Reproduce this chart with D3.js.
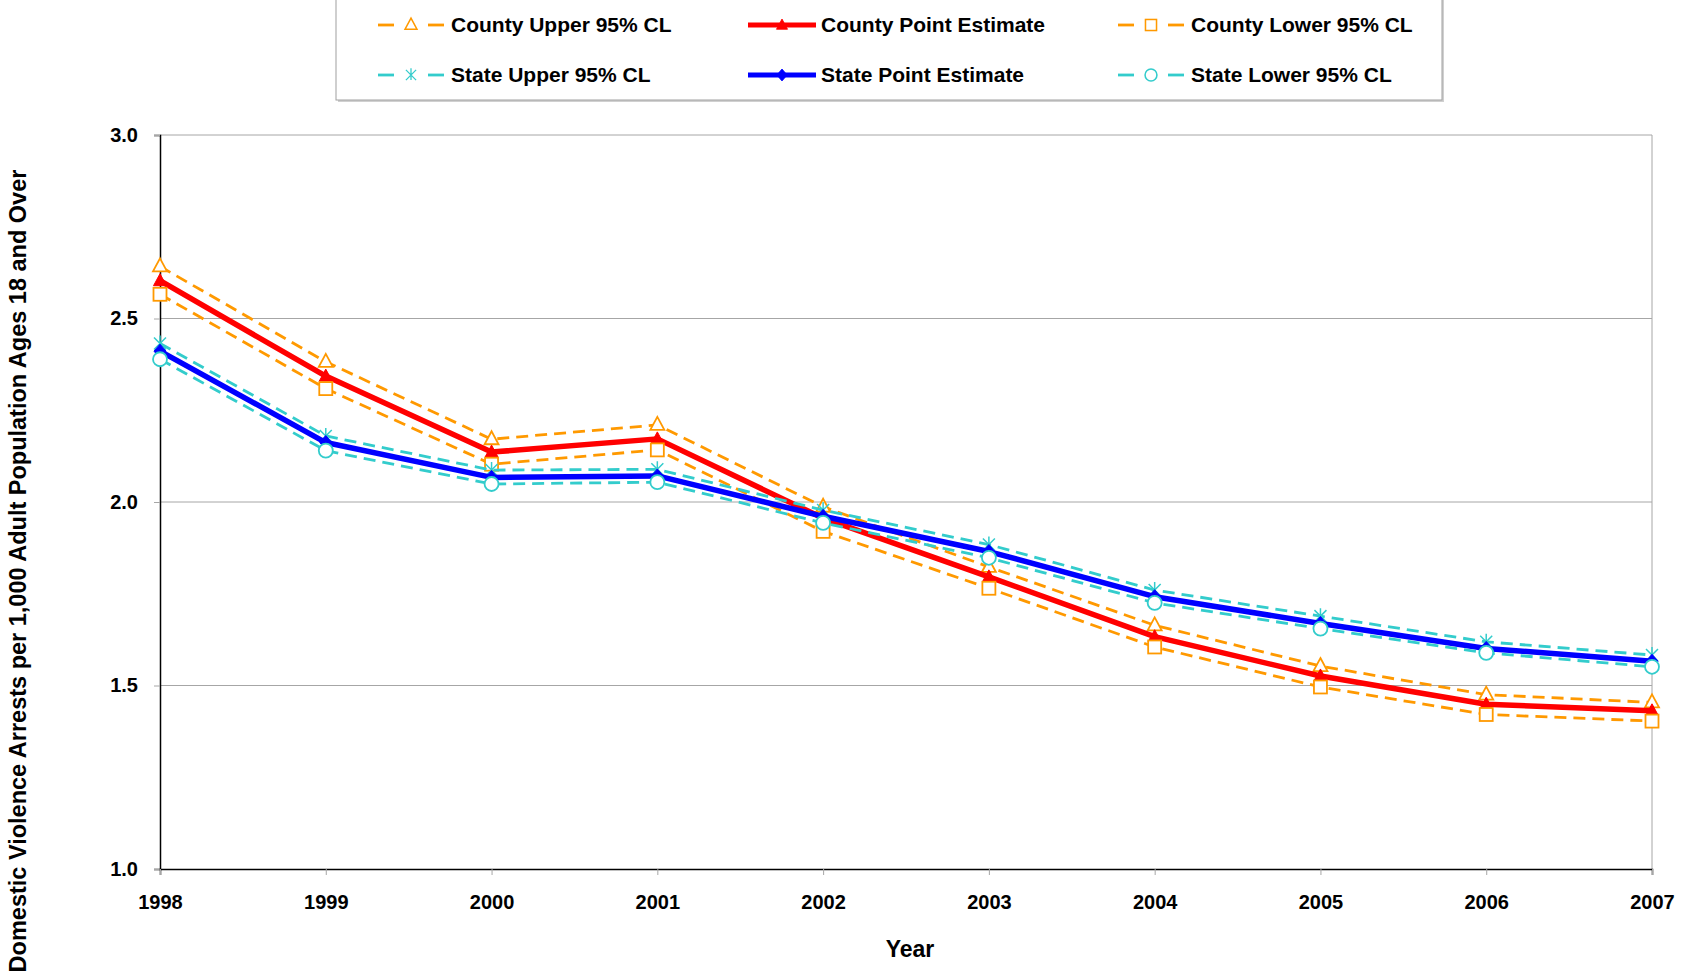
<!DOCTYPE html>
<html>
<head>
<meta charset="utf-8">
<script src="https://cdn.jsdelivr.net/npm/d3@7"></script>
<style>
  body { margin: 0; background: #fff; }
  svg text { font-family: "Liberation Sans", Arial, sans-serif; font-weight: bold; fill: #000; }
</style>
</head>
<body>
<svg id="chart" width="1681" height="980"></svg>
<script>
var years = [1998, 1999, 2000, 2001, 2002, 2003, 2004, 2005, 2006, 2007];
var yTicks = [1.0, 1.5, 2.0, 2.5, 3.0];

var countyUpper = [2.642, 2.382, 2.171, 2.210, 1.987, 1.823, 1.664, 1.553, 1.475, 1.454];
var countyPoint = [2.603, 2.343, 2.136, 2.172, 1.956, 1.796, 1.633, 1.526, 1.449, 1.431];
var countyLower = [2.566, 2.309, 2.103, 2.142, 1.920, 1.765, 1.605, 1.496, 1.421, 1.403];
var stateUpper = [2.432, 2.180, 2.087, 2.089, 1.978, 1.884, 1.760, 1.689, 1.619, 1.583];
var statePoint = [2.411, 2.162, 2.067, 2.071, 1.961, 1.865, 1.742, 1.669, 1.601, 1.566];
var stateLower = [2.389, 2.140, 2.049, 2.054, 1.943, 1.848, 1.725, 1.655, 1.589, 1.551];

var series = [
	{ name: "County Upper 95% CL", values: countyUpper, color: "#FF9900", dashed: true, marker: "triangleOpen" },
	{ name: "County Point Estimate", values: countyPoint, color: "#FF0000", dashed: false, marker: "triangleFilled" },
	{ name: "County Lower 95% CL", values: countyLower, color: "#FF9900", dashed: true, marker: "square" },
	{ name: "State Upper 95% CL", values: stateUpper, color: "#33CCCC", dashed: true, marker: "star" },
	{ name: "State Point Estimate", values: statePoint, color: "#0000FF", dashed: false, marker: "diamond" },
	{ name: "State Lower 95% CL", values: stateLower, color: "#33CCCC", dashed: true, marker: "circle" }
];

var svg = d3.select("#chart");
var margin = { left: 160, right: 1652, top: 135, bottom: 869 };

var x = d3.scaleLinear().domain([1998, 2007]).range([margin.left, margin.right]);
var y = d3.scaleLinear().domain([1, 3]).range([margin.bottom, margin.top]);

// gridlines
svg.append("g").selectAll("line")
	.data(yTicks.slice(1))
	.enter().append("line")
	.attr("x1", margin.left).attr("x2", margin.right)
	.attr("y1", function(d) { return y(d); })
	.attr("y2", function(d) { return y(d); })
	.attr("stroke", "#a6a6a6").attr("stroke-width", 1);

// right border of plot area
svg.append("line")
	.attr("x1", margin.right).attr("x2", margin.right)
	.attr("y1", margin.top).attr("y2", margin.bottom)
	.attr("stroke", "#a6a6a6").attr("stroke-width", 1);

// axes
var yAxis = d3.axisLeft(y).tickValues(yTicks).tickFormat(d3.format(".1f")).tickSize(6).tickPadding(16);
var xAxis = d3.axisBottom(x).tickValues(years).tickFormat(d3.format("d")).tickSize(6).tickPadding(20);

var gy = svg.append("g").attr("transform", "translate(" + margin.left + ",0)").call(yAxis);
var gx = svg.append("g").attr("transform", "translate(0," + margin.bottom + ")").call(xAxis);

[gx, gy].forEach(function(g) {
	g.select(".domain").attr("stroke", "#000").attr("stroke-width", 1.5);
	g.selectAll(".tick line").attr("stroke", "#a6a6a6");
	g.selectAll(".tick text").attr("font-size", 20).attr("font-family", null);
});

// axis titles
svg.append("text")
	.attr("x", 910)
	.attr("y", 957)
	.attr("text-anchor", "middle")
	.attr("font-size", 23)
	.text("Year");

svg.append("text")
	.attr("transform", "translate(26,571) rotate(-90)")
	.attr("text-anchor", "middle")
	.attr("font-size", 23.5)
	.text("Domestic Violence Arrests per 1,000 Adult Population Ages 18 and Over");

// marker drawing
function drawMarker(g, type, color) {
	if (type == "triangleOpen") {
		g.append("path").attr("d", "M0,-8L7,5L-7,5Z")
			.attr("fill", "#fff").attr("stroke", color).attr("stroke-width", 1.8);
	}
	if (type == "triangleFilled") {
		g.append("path").attr("d", "M0,-7L6.5,5L-6.5,5Z")
			.attr("fill", color).attr("stroke", color).attr("stroke-width", 1);
	}
	if (type == "square") {
		g.append("rect").attr("x", -6.5).attr("y", -6.5).attr("width", 13).attr("height", 13)
			.attr("fill", "#fff").attr("stroke", color).attr("stroke-width", 1.8);
	}
	if (type == "circle") {
		g.append("circle").attr("r", 7)
			.attr("fill", "#fff").attr("stroke", color).attr("stroke-width", 1.8);
	}
	if (type == "diamond") {
		g.append("path").attr("d", "M0,-7L6,0L0,7L-6,0Z")
			.attr("fill", color).attr("stroke", color).attr("stroke-width", 1);
	}
	if (type == "star") {
		g.append("path").attr("d", "M-6,-6L6,6M6,-6L-6,6M0,-8L0,6")
			.attr("fill", "none").attr("stroke", color).attr("stroke-width", 1.5);
	}
}

var line = d3.line()
	.x(function(d, i) { return x(years[i]); })
	.y(function(d) { return y(d); });

series.forEach(function(s) {
	var g = svg.append("g");
	g.append("path")
		.attr("d", line(s.values))
		.attr("fill", "none")
		.attr("stroke", s.color)
		.attr("stroke-width", s.dashed ? 2.8 : 5.5)
		.attr("stroke-dasharray", s.dashed ? "12,7" : null)
		.attr("stroke-linejoin", "round");
	s.values.forEach(function(v, i) {
		var m = g.append("g").attr("transform", "translate(" + x(years[i]) + "," + y(v) + ")");
		drawMarker(m, s.marker, s.color);
	});
});

// legend
var legend = svg.append("g");
legend.append("rect")
	.attr("x", 338).attr("y", -2).attr("width", 1106).attr("height", 104)
	.attr("fill", "#d0d0d0");
legend.append("rect")
	.attr("x", 336).attr("y", -4).attr("width", 1106).attr("height", 104)
	.attr("fill", "#fff").attr("stroke", "#a0a0a0").attr("stroke-width", 1);

var legendCols = [378, 748, 1118];
var legendRows = [25, 75];

series.forEach(function(s, i) {
	var lx = legendCols[i % 3];
	var ly = legendRows[Math.floor(i / 3)];
	var item = legend.append("g").attr("transform", "translate(" + lx + "," + ly + ")");
	if (s.dashed) {
		item.append("line").attr("x1", 0).attr("x2", 16).attr("y1", 0).attr("y2", 0)
			.attr("stroke", s.color).attr("stroke-width", 2.8);
		item.append("line").attr("x1", 50).attr("x2", 66).attr("y1", 0).attr("y2", 0)
			.attr("stroke", s.color).attr("stroke-width", 2.8);
	}
	else {
		item.append("line").attr("x1", 0).attr("x2", 68).attr("y1", 0).attr("y2", 0)
			.attr("stroke", s.color).attr("stroke-width", 5);
	}
	var m = item.append("g").attr("transform", "translate(" + (s.dashed ? 33 : 34) + ",0) scale(0.85)");
	drawMarker(m, s.marker, s.color);
	item.append("text")
		.attr("x", 73)
		.attr("y", 0)
		.attr("dy", "0.35em")
		.attr("font-size", 21)
		.text(s.name);
});
</script>
</body>
</html>
